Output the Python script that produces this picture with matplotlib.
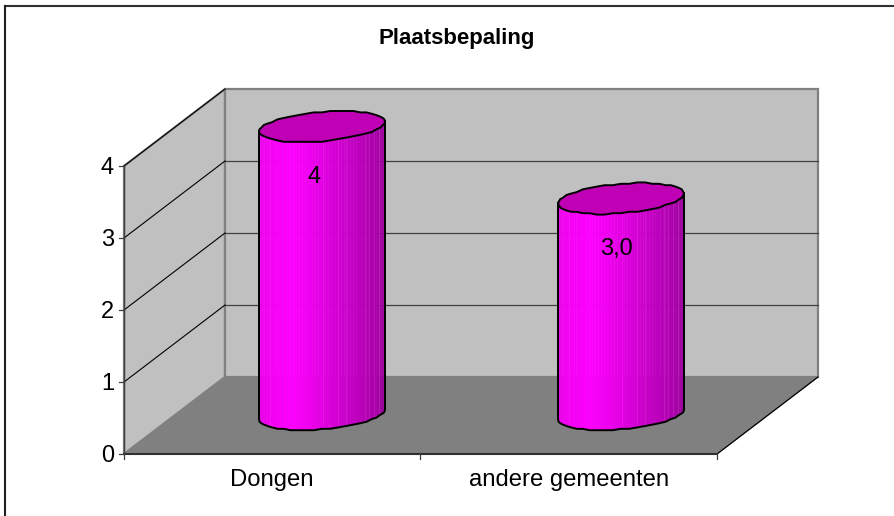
import numpy as np
import matplotlib
matplotlib.use("Agg")
import matplotlib.pyplot as plt
from matplotlib.patches import Polygon
from matplotlib.lines import Line2D

plt.rcParams['font.family'] = ['Liberation Sans', 'DejaVu Sans']

# data
categories = ["Dongen", "andere gemeenten"]
values = [4, 3.0]
value_labels = ["4", "3,0"]
y_ticks = [0, 1, 2, 3, 4]
title = "Plaatsbepaling"

W, H = 895, 516
fig = plt.figure(figsize=(W / 100, H / 100), dpi=100, facecolor="white")

# only the top and left of the chart frame are inside the picture
fig.add_artist(Line2D([5 / W, 1], [1 - 6 / H, 1 - 6 / H], transform=fig.transFigure, color="#303030", lw=1.5))
fig.add_artist(Line2D([5 / W, 5 / W], [0, 1 - 6 / H], transform=fig.transFigure, color="#202020", lw=1.5))

# front plane of the 3d box is the axes itself
left, right, bottom, top = 124, 717, 454, 166
ax = fig.add_axes([left / W, 1 - bottom / H, (right - left) / W, (bottom - top) / H])
ax.set_xlim(0, len(categories))
ax.set_ylim(0, 4)
ax.axis("off")

# depth of the box in data units
px_x = len(categories) / (right - left)
px_y = 4 / (bottom - top)
dx = 101 * px_x
dy = 77 * px_y
n = len(categories)
ymax = 4

wall = "#c0c0c0"
edge = "#808080"
ax.add_patch(Polygon([(0, 0), (dx, dy), (dx, ymax + dy), (0, ymax)], fc=wall, ec=edge, lw=1.6, clip_on=False))
ax.add_patch(Polygon([(dx, dy), (n + dx, dy), (n + dx, ymax + dy), (dx, ymax + dy)], fc=wall, ec=edge, lw=1.6, clip_on=False))
ax.add_patch(Polygon([(0, 0), (n, 0), (n + dx, dy), (dx, dy)], fc=edge, ec=edge, lw=0.8, clip_on=False))
ax.plot([n, n + dx], [0, dy], color="black", lw=0.9, clip_on=False)

# gridlines on both walls
for t in y_ticks[1:]:
    ax.plot([0, dx], [t, t + dy], color="black", lw=0.8, clip_on=False)
    if t < ymax:
        ax.plot([dx, n + dx], [t + dy, t + dy], color="#404040", lw=0.9, clip_on=False, zorder=1.5)

# axes lines and ticks
ax.plot([0, 0], [0, ymax], color="#404040", lw=1.0, clip_on=False)
ax.plot([0, n], [0, 0], color="#303030", lw=1.5, clip_on=False)
for t in y_ticks:
    ax.plot([-5 * px_x, 0], [t, t], color="#404040", lw=0.9, clip_on=False)
    ax.text(-10 * px_x, t - 0.03, str(t), ha="right", va="center", fontsize=17, color="black")
for i in range(n + 1):
    ax.plot([i, i], [0, -5 * px_y], color="#404040", lw=0.9, clip_on=False)
for i, c in enumerate(categories):
    ax.text(i + 0.5, -26 * px_y, c, ha="center", va="center", fontsize=17.2, color="black")

# cylinder cross-section: circle on the sheared floor
A = 59.6 * px_x
B = 20.3 * px_x
C = 15.5 * px_y
t_right = np.arctan2(B, A)
# where the faint facet seams sit, as a fraction of the cylinder width
seams = [0.09, 0.51, 0.63, 0.69, 0.84, 0.875, 0.91, 0.95]


def ring(cx, cy, t):
    return cx + A * np.cos(t) + B * np.sin(t), cy + C * np.sin(t)


def wobble(ys):
    # the original outline is slightly stepped, snap it to a pixel grid
    return np.round(ys / (1.4 * px_y)) * (1.4 * px_y)


def facet_color(f):
    # f runs 0..1 from the left edge to the right edge of the cylinder
    if f < 0.25:
        v = 0.94 + 0.06 * f / 0.25
    else:
        v = 1.0 - 0.38 * ((f - 0.25) / 0.75) ** 1.15
    return (v, 0, v)


for i, v in enumerate(values):
    cx = (198 + 299 * i) * px_x
    cy = dy / 2 + 1 * px_y
    # front half goes from the right extreme through the bottom to the left extreme
    ts = np.linspace(t_right, t_right - np.pi, 61)
    for k in range(60):
        xa, ya = ring(cx, cy, ts[k + 1])
        xb, yb = ring(cx, cy, ts[k])
        f = ((xa + xb) / 2 - (cx - 63 * px_x)) / (126 * px_x)
        ax.add_patch(Polygon([(xa, ya), (xb, yb), (xb, yb + v), (xa, ya + v)], fc=facet_color(f),
                             ec=facet_color(f), lw=0.3, clip_on=False, zorder=3))
    for s in seams:
        sx, sy = ring(cx, cy, t_right - np.arccos(2 * s - 1))
        ax.plot([sx, sx], [sy, sy + v], color="#ff60ff", alpha=0.2, lw=0.7, clip_on=False, zorder=3.5)
    # outline of body
    ts_out = np.linspace(t_right, t_right - np.pi, 25)
    xs, ys = ring(cx, cy, ts_out)
    ys = wobble(ys)
    ax.plot(xs, ys, color="black", lw=1.4, clip_on=False, zorder=4)
    ax.plot([xs[0], xs[0]], [ys[0], ys[0] + v], color="black", lw=1.4, clip_on=False, zorder=4)
    ax.plot([xs[-1], xs[-1]], [ys[-1], ys[-1] + v], color="black", lw=1.4, clip_on=False, zorder=4)
    # top cap, faceted like the original
    tc = np.linspace(t_right, t_right + 2 * np.pi, 49)
    xt, yt = ring(cx, cy + v, tc)
    yt = wobble(yt)
    ax.add_patch(Polygon(np.column_stack([xt, yt]), fc="#bf00b4", ec="black", lw=1.4, clip_on=False, zorder=5))
    ax.text(cx - (8 if i == 0 else 5) * px_x, cy + v - 50 * px_y, value_labels[i], ha="center", va="center",
            fontsize=17, color="black", zorder=6)

fig.text(457 / W, 1 - 38.5 / H, title, ha="center", va="center", fontsize=16, fontweight="bold", color="black")

fig.savefig("out.png", dpi=100)
